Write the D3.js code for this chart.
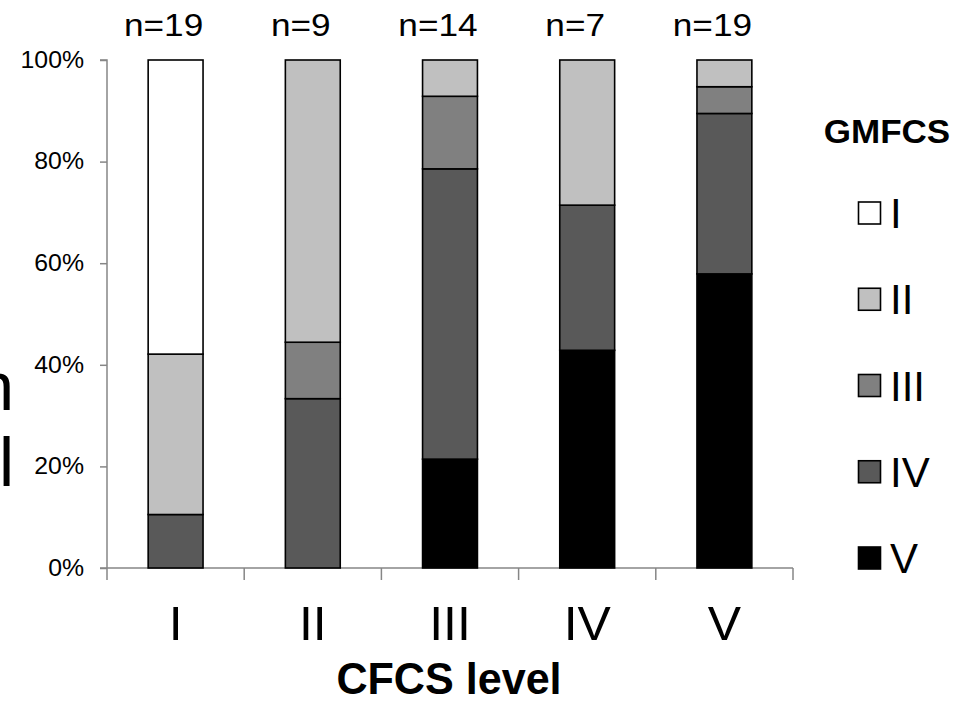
<!DOCTYPE html>
<html>
<head>
<meta charset="utf-8">
<script src="https://cdn.jsdelivr.net/npm/d3@7"></script>
<style>
  html, body { margin: 0; padding: 0; background: #fff; }
  svg { display: block; font-family: "Liberation Sans", Arial, sans-serif; }
</style>
</head>
<body>
<svg id="chart" width="971" height="702"></svg>
<script>
// ---- data ----
const categories = ["I", "II", "III", "IV", "V"];          // CFCS level
const nCounts = [19, 9, 14, 7, 19];
const gmfcsLevels = ["V", "IV", "III", "II", "I"];          // stacking order bottom -> top
const countsV   = [0, 0, 3, 3, 11];
const countsIV  = [2, 3, 8, 2, 6];
const countsIII = [0, 1, 2, 0, 1];
const countsII  = [6, 5, 1, 2, 1];
const countsI   = [11, 0, 0, 0, 0];
const legendOrder = ["I", "II", "III", "IV", "V"];
const yTicks = [0, 0.2, 0.4, 0.6, 0.8, 1.0];
const sideTitleLines = ["Distribution", "GMFCS level"];
const xTitle = "CFCS level";
const legendTitle = "GMFCS";

const colors = { "I": "#ffffff", "II": "#c0c0c0", "III": "#808080", "IV": "#595959", "V": "#000000" };
const countsByLevel = { "V": countsV, "IV": countsIV, "III": countsIII, "II": countsII, "I": countsI };

// build proportion table
const table = categories.map((c, i) => {
  const row = { cat: c, n: nCounts[i] };
  gmfcsLevels.forEach(l => { row[l] = countsByLevel[l][i] / nCounts[i]; });
  return row;
});

const svg = d3.select("#chart");
const axisColor = "#868686";

const x = d3.scaleBand().domain(categories).range([107, 793]).paddingInner(0.6).paddingOuter(0.3);
const y = d3.scaleLinear().domain([0, 1]).range([568, 60]);

function stretchText(sel, sx) {
  sel.each(function () {
    const t = d3.select(this);
    const tx = +t.attr("x"), ty = +t.attr("y");
    t.attr("x", 0).attr("y", 0).attr("transform", `translate(${tx},${ty}) scale(${sx},1)`);
  });
}

// ---- y axis ----
const yAxis = d3.axisLeft(y).tickValues(yTicks).tickFormat(d3.format(".0%")).tickSize(7).tickPadding(16);
const gy = svg.append("g").attr("transform", "translate(107,0)").call(yAxis);
gy.select(".domain").attr("stroke", axisColor).attr("stroke-width", 1.5).attr("d", `M-7,${y(1)}H0V${y(0)}`);
gy.selectAll(".tick line").attr("stroke", axisColor).attr("stroke-width", 1.5);
gy.selectAll(".tick text").attr("fill", "#000").style("font-size", "23px")
  .attr("font-family", "'Liberation Sans', Arial, sans-serif")
  .attr("transform", "scale(1.08,1)").attr("x", -23 / 1.08);

// ---- x axis line and category boundary ticks ----
const gx = svg.append("g");
gx.append("line").attr("x1", 100).attr("x2", x.range()[1]).attr("y1", y(0)).attr("y2", y(0))
  .attr("stroke", axisColor).attr("stroke-width", 1.5);
d3.range(categories.length + 1).forEach(i => {
  const bx = x.range()[0] + i * x.step();
  gx.append("line").attr("x1", bx).attr("x2", bx).attr("y1", y(0)).attr("y2", y(0) + 12)
    .attr("stroke", axisColor).attr("stroke-width", 1.5);
});
gx.selectAll("text.cat").data(categories).join("text").attr("class", "cat")
  .attr("x", d => x(d) + x.bandwidth() / 2).attr("y", 640)
  .attr("text-anchor", "middle").style("font-size", "48px").attr("fill", "#000")
  .text(d => d).call(stretchText, 1.04);

// ---- stacked bars ----
const stack = d3.stack().keys(gmfcsLevels);
const series = stack(table);
const gb = svg.append("g");
series.forEach(s => {
  gb.selectAll(null).data(s.filter(d => d[1] - d[0] > 0)).join("rect")
    .attr("x", d => x(d.data.cat))
    .attr("width", x.bandwidth())
    .attr("y", d => y(d[1]))
    .attr("height", d => y(d[0]) - y(d[1]))
    .attr("fill", colors[s.key])
    .attr("stroke", "#000").attr("stroke-width", 1.6);
});

// ---- n labels ----
svg.append("g").selectAll("text").data(table).join("text")
  .attr("x", d => x(d.cat) + x.bandwidth() / 2 - 12).attr("y", 36)
  .attr("text-anchor", "middle").style("font-size", "32px").attr("fill", "#000")
  .text(d => "n=" + d.n).call(stretchText, 1.1);

// ---- x title ----
svg.append("text").attr("x", 449).attr("y", 694).attr("text-anchor", "middle")
  .style("font-size", "44px").style("font-weight", "bold").attr("fill", "#000")
  .text(xTitle).call(stretchText, 0.98);

// ---- left-side title (cut off at page edge, as in the reference) ----
svg.append("g").selectAll("text").data(sideTitleLines).join("text")
  .attr("x", 14).attr("y", (d, i) => [410, 486][i]).attr("text-anchor", "end")
  .style("font-size", "68px").attr("fill", "#000").text(d => d);

// ---- legend ----
const lg = svg.append("g");
lg.append("text").attr("x", 887).attr("y", 143).attr("text-anchor", "middle")
  .style("font-size", "34px").style("font-weight", "bold").attr("fill", "#000")
  .text(legendTitle).call(stretchText, 1.03);
const legendY = d3.scalePoint().domain(legendOrder).range([213, 558]);
const items = lg.selectAll("g.item").data(legendOrder).join("g").attr("class", "item");
items.append("rect").attr("x", 858.5).attr("y", d => legendY(d) - 11).attr("width", 22).attr("height", 22)
  .attr("fill", d => colors[d]).attr("stroke", "#000").attr("stroke-width", 1.6);
items.append("text").attr("x", 890).attr("y", d => legendY(d) + 15)
  .style("font-size", "42px").attr("fill", "#000").text(d => d);
</script>
</body>
</html>
